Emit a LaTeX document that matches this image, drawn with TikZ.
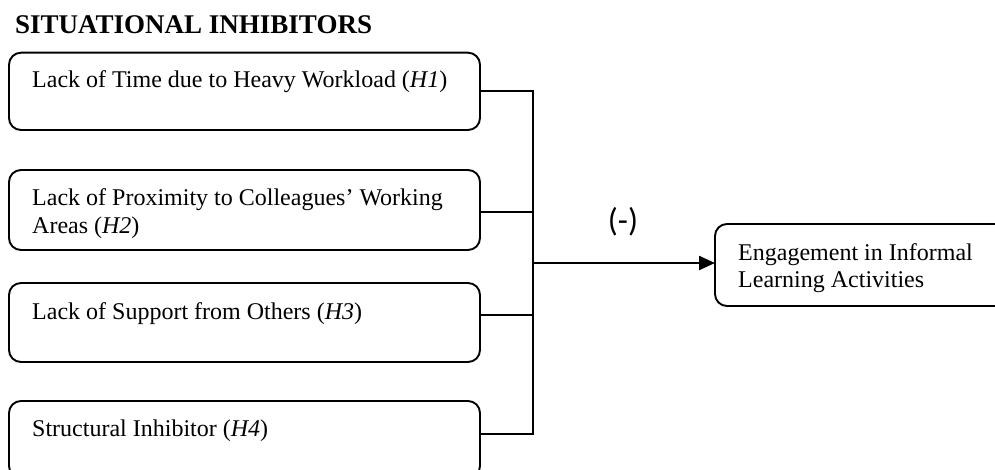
\documentclass[tikz,border=0pt]{standalone}
\usepackage{fontspec}
\setmainfont{Liberation Serif}
\newfontfamily\calib{Carlito}
\usetikzlibrary{arrows.meta}
\begin{document}
\begin{tikzpicture}[x=1pt,y=-1pt,
  boxshape/.style={draw,line width=1.9pt,rounded corners=12pt},
  boxtext/.style={anchor=base west,inner sep=0pt,align=left,
    font=\fontsize{24}{27.6}\selectfont},
  conn/.style={line width=1.8pt},
  arr/.style={line width=2.3pt,-{Triangle[length=16pt,width=14pt]}}]
\useasboundingbox (0,0) rectangle (995,470);
\node[anchor=base west,inner sep=0pt,font=\fontsize{27}{30}\selectfont\bfseries] (title) at (15,34) {SITUATIONAL INHIBITORS};
% boxes
\draw[boxshape] (9,52.7) rectangle (480,130);
\coordinate (b1) at (480,91);
\draw[boxshape] (9,170) rectangle (480,250);
\coordinate (b2) at (480,212);
\draw[boxshape] (9,283) rectangle (480,362);
\coordinate (b3) at (480,315);
\draw[boxshape] (9,401) rectangle (480,478);
\coordinate (b4) at (480,434);
\draw[boxshape] (715,224) rectangle (1010,306);
\coordinate (dv) at (715,263);
% texts (base anchor = last line baseline)
\node[boxtext] (t1) at (32,88) {Lack of Time due to Heavy Workload (\textit{H1})};
\node[boxtext] (t2) at (32,233.6) {Lack of Proximity to Colleagues’ Working\\Areas (\textit{H2})};
\node[boxtext] (t3) at (32,319) {Lack of Support from Others (\textit{H3})};
\node[boxtext] (t4) at (32,436) {Structural Inhibitor (\textit{H4})};
\node[boxtext] (t5) at (738,287.6) {Engagement in Informal\\Learning Activities};
% connectors
\coordinate (v1) at (533,91);
\coordinate (v2) at (533,212);
\coordinate (v3) at (533,315);
\coordinate (v4) at (533,434);
\coordinate (j) at (533,263);
\draw[conn] (b1) -- (v1) -- (v4) -- (b4);
\draw[conn] (b2) -- (v2);
\draw[conn] (b3) -- (v3);
\draw[arr] (j) -- (dv);
\node[anchor=base,inner sep=0pt,font=\calib\fontsize{33}{35}\selectfont] (neg) at (623,232) {(-)};
\end{tikzpicture}
\end{document}
